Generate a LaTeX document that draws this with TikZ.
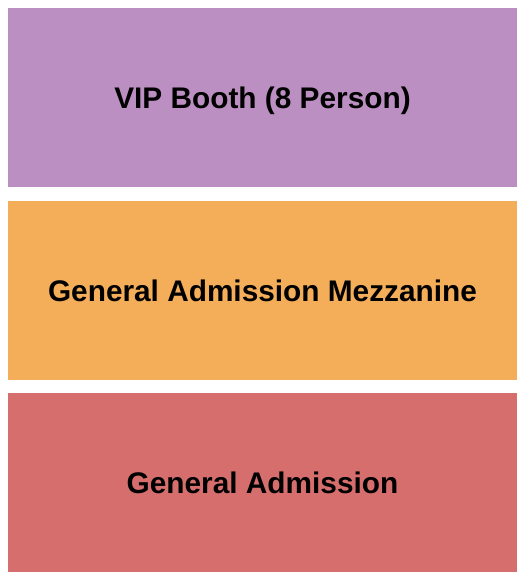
\documentclass[tikz,border=0pt]{standalone}
\usepackage{fontspec}
\setmainfont{Liberation Sans}
\definecolor{vipcol}{RGB}{188,143,194}
\definecolor{mezzcol}{RGB}{244,174,90}
\definecolor{gacol}{RGB}{215,110,110}
\begin{document}
\begin{tikzpicture}[x=1pt,y=-1pt,every node/.style={rectangle,draw=none,minimum width=509pt,minimum height=179pt,inner sep=0pt,text depth=0pt,font=\bfseries\fontsize{29.8}{34}\selectfont}]

			\useasboundingbox (0,0) rectangle (525,580);

			%sections
			\node [fill=vipcol] (vip) at (262.5,97.5) {VIP Booth (8 Person)};
			\node [fill=mezzcol] (mezz) at (262.5,290.5) {General Admission Mezzanine};
			\node [fill=gacol] (ga) at (262.5,482.5) {General Admission};
		\end{tikzpicture}
\end{document}
